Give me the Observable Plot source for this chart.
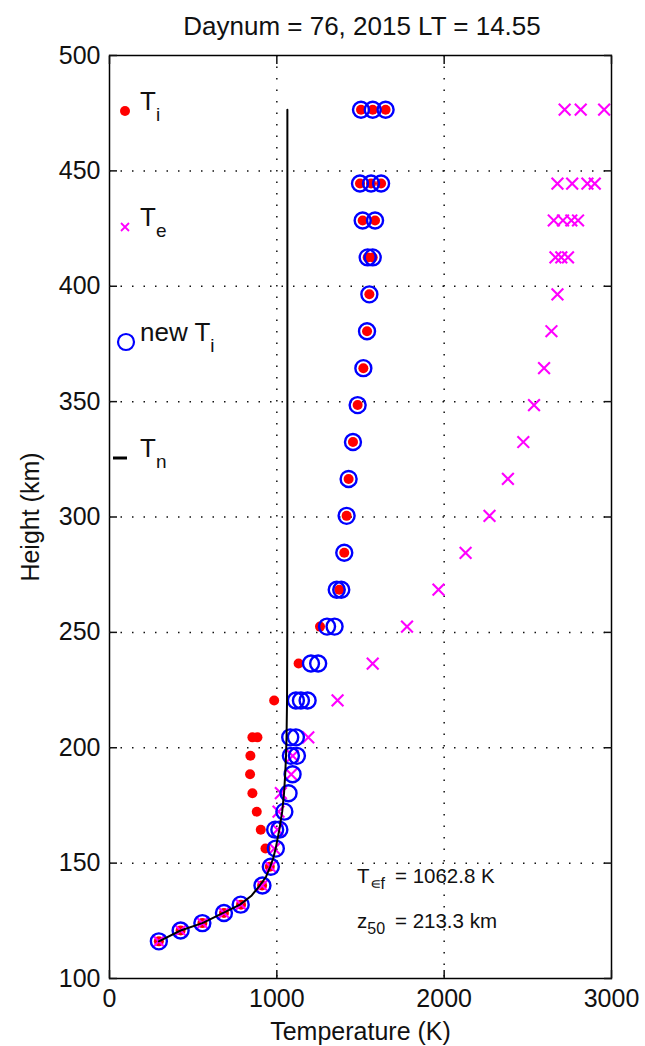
<!DOCTYPE html>
<html><head><meta charset="utf-8">
<script src="https://cdn.jsdelivr.net/npm/d3@7"></script>
<script src="https://cdn.jsdelivr.net/npm/@observablehq/plot@0.6"></script>
<style>
body{margin:0;background:#fff;font-family:"Liberation Sans",Arial,Helvetica,sans-serif;}
#wrap{position:relative;width:645px;height:1046px;overflow:hidden;background:#fff}
#title{position:absolute;left:0;top:0;}
#chart{position:absolute;left:0;top:42px;}
</style></head><body>
<div id="wrap"><div id="title"></div><div id="chart"></div></div>
<script>
// ---- data ----
const titleText = "Daynum = 76, 2015 LT = 14.55";
const xTicks = [0, 1000, 2000, 3000];
const yTicks = [100, 150, 200, 250, 300, 350, 400, 450, 500];
const xGridTicks = [1000, 2000];
const yGridTicks = [150, 200, 250, 300, 350, 400, 450];

// measured ion temperature T_i (K) vs height (km)
const tiHeight = [476.5,476.5,476.5, 444.5,444.5,444.5, 428.5,428.5, 412.5,412.5, 396.5, 380.5, 364.5, 348.5, 332.5, 316.5, 300.5, 284.5, 268.5, 252.5, 236.5, 220.5, 204.5,204.5, 196.5, 188.5, 180.3, 172.3, 164.5, 156.3, 148.4, 140.3, 132, 128.4, 124, 120.8, 116.1];
const tiTemp   = [1503,1573,1650, 1497,1563,1623, 1513,1587, 1543,1573, 1553, 1539, 1517, 1483, 1455, 1429, 1417, 1403, 1373, 1258, 1130, 984, 854,884, 842, 840, 854, 880, 904, 932, 958, 912, 786, 684, 555, 425, 295];

// electron temperature T_e
const teHeight = [476.5,476.5,476.5, 444.5,444.5,444.5,444.5, 428.5,428.5,428.5,428.5, 412.5,412.5,412.5, 396.5, 380.5, 364.5, 348.5, 332.5, 316.5, 300.5, 284.5, 268.5, 252.5, 236.5, 220.5, 204.5, 196.5, 188.5, 180.3, 172.3, 164.5, 156.3, 148.4, 140.3, 132, 128.4, 124, 120.8, 116.1];
const teTemp   = [2720,2816,2956, 2677,2765,2856,2900, 2655,2710,2760,2800, 2665,2700,2740, 2677, 2641, 2597, 2537, 2473, 2381, 2271, 2128, 1966, 1778, 1573, 1363, 1188, 1095, 1086, 1024, 1010, 1004, 985, 962, 912, 786, 684, 555, 425, 295];

// new T_i
const newTiHeight = [476.5,476.5,476.5, 444.5,444.5,444.5, 428.5,428.5, 412.5,412.5, 396.5, 380.5, 364.5, 348.5, 332.5, 316.5, 300.5, 284.5, 268.5,268.5, 252.5,252.5, 236.5,236.5, 220.5,220.5,220.5, 204.5,204.5, 196.5,196.5, 188.5, 180.3, 172.3, 164.5,164.5, 156.3, 148.4, 140.3, 132, 128.4, 124, 120.8, 116.1];
const newTiTemp   = [1503,1573,1650, 1497,1563,1623, 1513,1587, 1543,1573, 1553, 1539, 1517, 1483, 1455, 1429, 1417, 1403, 1358,1385, 1300,1345, 1204,1247, 1114,1144,1184, 1080,1114, 1084,1120, 1094, 1070, 1045, 990,1015, 994, 964, 914, 784, 684, 555, 425, 295];

// neutral temperature T_n profile
const tnHeight = [116.1, 120.8, 124, 128.4, 132, 136, 140.3, 144, 148.4, 152, 156.3, 164.5, 172.3, 180.3, 188.5, 196.5, 204.5, 220.5, 252.5, 300.5, 476.5];
const tnTemp   = [295, 425, 555, 680, 780, 850, 898, 935, 960, 978, 993, 1015, 1032, 1043, 1050, 1055, 1058, 1061, 1062.5, 1063, 1063];

const xLabel = "Temperature (K)";
const yLabel = "Height (km)";
const legendItems = [
  {kind: "dot", main: "T", sub: "i"},
  {kind: "times", main: "T", sub: "e"},
  {kind: "circle", main: "new T", sub: "i"},
  {kind: "dash", main: "T", sub: "n"}
];
const annotations = [
  {main: "T", sub: "\u220Af", rest: "= 1062.8 K"},
  {main: "z", sub: "50", rest: "= 213.3 km"}
];

// ---- build tables ----
const ti = tiHeight.map((h, i) => ({h, t: tiTemp[i]}));
const te = teHeight.map((h, i) => ({h, t: teTemp[i]}));
const newTi = newTiHeight.map((h, i) => ({h, t: newTiTemp[i]}));
const tn = tnHeight.map((h, i) => ({h, t: tnTemp[i]}));

const FONT = "Liberation Sans, Arial, Helvetica, sans-serif";
const RED = "#ff0000", MAG = "#ff00ff", BLUE = "#0000ff";

const grid = {stroke: "#111", strokeOpacity: 1, strokeWidth: 1.5, strokeDasharray: "1.5 10"};
const fmt = d3.format("d");

const plot = Plot.plot({
  width: 645, height: 1004,
  marginLeft: 109, marginRight: 34, marginTop: 13, marginBottom: 68,
  style: {fontFamily: FONT, fontSize: "25px", color: "#111", background: "white"},
  x: {domain: [0, 3000]},
  y: {domain: [100, 500]},
  marks: [
    Plot.gridX(xGridTicks, grid),
    Plot.gridY(yGridTicks, grid),
    Plot.dot(ti, {x: "t", y: "h", r: 5, fill: RED, stroke: "none"}),
    Plot.dot(te, {x: "t", y: "h", symbol: "times", r: 5.4, stroke: MAG, strokeWidth: 2.1}),
    Plot.dot(newTi, {x: "t", y: "h", r: 8, fill: "none", stroke: BLUE, strokeWidth: 2.4}),
    Plot.line(tn, {x: "t", y: "h", stroke: "#000", strokeWidth: 2}),
    Plot.frame({stroke: "#000", strokeWidth: 1.5}),
    Plot.axisX(xTicks, {anchor: "bottom", tickSize: 0, tickPadding: 11, fontSize: 25, tickFormat: fmt, label: xLabel, labelAnchor: "center", labelArrow: "none", labelOffset: 61}),
    Plot.axisX(xTicks, {anchor: "bottom", tickSize: -8, tickFormat: () => "", label: null, strokeWidth: 1.5}),
    Plot.axisX(xTicks, {anchor: "top", tickSize: -8, tickFormat: () => "", label: null, strokeWidth: 1.5}),
    Plot.axisY(yTicks, {anchor: "left", tickSize: 0, tickPadding: 9, fontSize: 25, tickFormat: fmt, label: yLabel, labelAnchor: "center", labelArrow: "none", labelOffset: 88}),
    Plot.axisY(yTicks, {anchor: "left", tickSize: -8, tickFormat: () => "", label: null, strokeWidth: 1.5}),
    Plot.axisY(yTicks, {anchor: "right", tickSize: -8, tickFormat: () => "", label: null, strokeWidth: 1.5})
  ]
});
document.getElementById("chart").appendChild(plot);

// title
const tsvg = d3.select("#title").append("svg").attr("width", 645).attr("height", 42);
tsvg.append("text").attr("x", 362).attr("y", 35).attr("text-anchor", "middle")
  .attr("font-family", FONT).attr("font-size", 26).attr("fill", "#111").text(titleText);

// legend (inside the axes, top-left)
const svg = d3.select(plot);
const lg = svg.append("g").attr("font-family", FONT).attr("fill", "#111").attr("text-anchor", "start");
const legendRows = [69, 185, 300, 416]; // symbol centre y (svg px)
legendItems.forEach((it, i) => {
  const y = legendRows[i];
  const sx = 125;
  if (it.kind === "dot") lg.append("circle").attr("cx", sx).attr("cy", y).attr("r", 5).attr("fill", RED);
  if (it.kind === "times") lg.append("path").attr("d", `M${sx-4},${y-4}L${sx+4},${y+4}M${sx-4},${y+4}L${sx+4},${y-4}`).attr("stroke", MAG).attr("stroke-width", 1.8).attr("fill", "none");
  if (it.kind === "circle") lg.append("circle").attr("cx", sx + 1).attr("cy", y).attr("r", 8).attr("fill", "none").attr("stroke", BLUE).attr("stroke-width", 2.2);
  if (it.kind === "dash") lg.append("line").attr("x1", sx - 12).attr("x2", sx + 2).attr("y1", y).attr("y2", y).attr("stroke", "#000").attr("stroke-width", 3);
  const t = lg.append("text").attr("x", 140).attr("y", y - 1).attr("font-size", 26);
  t.append("tspan").text(it.main);
  t.append("tspan").attr("dy", 11).attr("font-size", 19).text(it.sub);
});

// annotations (T_inf and z_50)
const annRows = [841, 886];
annotations.forEach((a, i) => {
  const y = annRows[i];
  const t = lg.append("text").attr("x", 357).attr("y", y).attr("font-size", 20.5);
  t.append("tspan").text(a.main);
  t.append("tspan").attr("dy", 6).attr("font-size", 16).text(a.sub);
  lg.append("text").attr("x", 395).attr("y", y).attr("font-size", 20.5).text(a.rest);
});
</script>
</body></html>
